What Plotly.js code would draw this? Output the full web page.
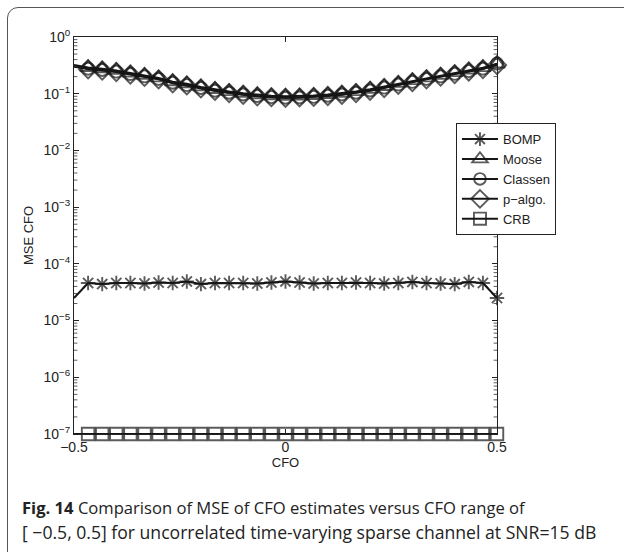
<!DOCTYPE html>
<html>
<head>
<meta charset="utf-8">
<script src="https://cdn.plot.ly/plotly-3.0.1.min.js"></script>
<style>
  html, body { margin:0; padding:0; background:#fff; overflow:hidden; }
  #frame { position:absolute; left:7px; top:7px; width:660px; height:600px;
           border:1.3px solid #555; border-radius:11px; box-sizing:border-box; }
  #chart { position:absolute; left:0; top:0; width:624px; height:552px; }
</style>
</head>
<body>
<div id="frame"></div>
<div id="chart"></div>
<script>
// CFO grid (31 points from -0.5 to 0.5)
const cfo = [-0.5, -0.4667, -0.4333, -0.4, -0.3667, -0.3333, -0.3, -0.2667, -0.2333, -0.2, -0.1667,
             -0.1333, -0.1, -0.0667, -0.0333, 0, 0.0333, 0.0667, 0.1, 0.1333, 0.1667,
             0.2, 0.2333, 0.2667, 0.3, 0.3333, 0.3667, 0.4, 0.4333, 0.4667, 0.5];

const bomp = [2.5e-5, 4.6e-5, 4.4e-5, 4.6e-5, 4.6e-5, 4.5e-5, 4.7e-5, 4.6e-5, 4.9e-5, 4.4e-5, 4.6e-5,
              4.6e-5, 4.6e-5, 4.5e-5, 4.7e-5, 4.9e-5, 4.7e-5, 4.5e-5, 4.6e-5, 4.6e-5, 4.7e-5,
              4.6e-5, 4.5e-5, 4.6e-5, 4.8e-5, 4.6e-5, 4.5e-5, 4.4e-5, 4.8e-5, 4.6e-5, 2.5e-5];

const moose = [0.32, 0.29, 0.275, 0.258, 0.232, 0.212, 0.19, 0.163, 0.15, 0.132, 0.119,
               0.109, 0.102, 0.096, 0.092, 0.09, 0.091, 0.093, 0.097, 0.102, 0.109,
               0.12, 0.134, 0.152, 0.17, 0.19, 0.211, 0.235, 0.262, 0.288, 0.335];

const classen = [0.3, 0.276, 0.262, 0.245, 0.222, 0.202, 0.182, 0.156, 0.142, 0.126, 0.113,
                 0.104, 0.097, 0.091, 0.087, 0.085, 0.086, 0.088, 0.092, 0.097, 0.104,
                 0.114, 0.128, 0.145, 0.162, 0.182, 0.202, 0.224, 0.25, 0.276, 0.34];

const palgo = [0.31, 0.27, 0.256, 0.242, 0.218, 0.198, 0.179, 0.153, 0.14, 0.124, 0.112,
               0.103, 0.096, 0.09, 0.087, 0.085, 0.086, 0.088, 0.091, 0.096, 0.103,
               0.113, 0.126, 0.143, 0.16, 0.18, 0.2, 0.222, 0.247, 0.272, 0.32];

const crb = [1e-7, 1e-7, 1e-7, 1e-7, 1e-7, 1e-7, 1e-7, 1e-7, 1e-7, 1e-7, 1e-7,
             1e-7, 1e-7, 1e-7, 1e-7, 1e-7, 1e-7, 1e-7, 1e-7, 1e-7, 1e-7,
             1e-7, 1e-7, 1e-7, 1e-7, 1e-7, 1e-7, 1e-7, 1e-7, 1e-7, 1e-7];

const seriesNames = ['BOMP', 'Moose', 'Classen', 'p\u2212algo.', 'CRB'];
const xTickVals = [-0.5, 0, 0.5];
const xTickText = ['\u22120.5', '0', '0.5'];
const yTickVals = [1e-7, 1e-6, 1e-5, 1e-4, 1e-3, 1e-2, 1e-1, 1];
const yTickText = ['10<sup>\u22127</sup>', '10<sup>\u22126</sup>', '10<sup>\u22125</sup>', '10<sup>\u22124</sup>',
                   '10<sup>\u22123</sup>', '10<sup>\u22122</sup>', '10<sup>\u22121</sup>', '10<sup>0</sup>'];

// minor log tick positions (2..9 within each decade)
const yMinorVals = [];
for (let e = -7; e < 0; e++) for (let m = 2; m <= 9; m++) yMinorVals.push(m * Math.pow(10, e));

// minor ticks drawn as short inside tick marks on the left and right axis lines
const minorShapes = [];
yMinorVals.forEach(v => {
  minorShapes.push({type: 'line', xref: 'paper', yref: 'y', x0: 0, x1: 0.008, y0: v, y1: v,
                    line: {color: '#333', width: 0.8}});
  minorShapes.push({type: 'line', xref: 'paper', yref: 'y', x0: 0.992, x1: 1, y0: v, y1: v,
                    line: {color: '#333', width: 0.8}});
});

function sizes(n, s) { const a = new Array(n).fill(s); a[0] = 0; return a; }

function mk(y, name, symbol, size) {
  return {
    x: cfo, y: y, name: name, type: 'scatter', mode: 'lines+markers',
    cliponaxis: false,
    line: {color: '#161616', width: 2},
    marker: {symbol: symbol, size: sizes(cfo.length, size), color: '#161616',
             line: {color: '#161616', width: 1.9}}
  };
}

const traces = [
  mk(bomp, seriesNames[0], 'asterisk-open', 12),
  mk(moose, seriesNames[1], 'triangle-up-open', 14),
  mk(classen, seriesNames[2], 'circle-open', 12),
  mk(palgo, seriesNames[3], 'diamond-open', 14),
  mk(crb, seriesNames[4], 'square-open', 12.5)
];

const axFont = {family: 'Liberation Sans, Arial, sans-serif', size: 14, color: '#222'};
const titleFont = {family: 'Liberation Sans, Arial, sans-serif', size: 13, color: '#222'};
const capFont1 = {family: 'Open Sans, Noto Sans, sans-serif', size: 16.6, color: '#222'};
const capFont2 = {family: 'Open Sans, Noto Sans, sans-serif', size: 17.6, color: '#222'};

const layout = {
  width: 624, height: 552,
  margin: {l: 74, r: 127, t: 37, b: 118},
  paper_bgcolor: 'rgba(0,0,0,0)',
  plot_bgcolor: '#fff',
  showlegend: true,
  font: axFont,
  shapes: minorShapes,
  xaxis: {
    range: [-0.5, 0.5], tickvals: xTickVals, ticktext: xTickText,
    ticks: 'inside', ticklen: 5, tickcolor: '#222', showline: true, linecolor: '#222', linewidth: 1,
    mirror: 'ticks', showgrid: false, zeroline: false, tickfont: axFont,
    title: {text: 'CFO', font: titleFont, standoff: 4}
  },
  yaxis: {
    type: 'log', range: [-7, 0], tickmode: 'array', tickvals: yTickVals, ticktext: yTickText,
    ticks: 'inside', ticklen: 5, tickcolor: '#222', showline: true, linecolor: '#222', linewidth: 1,
    mirror: 'ticks', showgrid: false, zeroline: false, tickfont: axFont,
    title: {text: 'MSE CFO', font: titleFont, standoff: 6}
  },
  legend: {
    x: 0.903, y: 0.783, xanchor: 'left', yanchor: 'top',
    bgcolor: '#fff', bordercolor: '#222', borderwidth: 1,
    font: {family: 'Liberation Sans, Arial, sans-serif', size: 13, color: '#222'},
    itemwidth: 36,
    tracegroupgap: 0
  },
  annotations: [
    {xref: 'paper', yref: 'paper', x: -0.128, y: -0.184, xanchor: 'left', yanchor: 'middle',
     showarrow: false, align: 'left', font: capFont1,
     text: '<b>Fig. 14</b> Comparison of MSE of CFO estimates versus CFO range of'},
    {xref: 'paper', yref: 'paper', x: -0.128, y: -0.246, xanchor: 'left', yanchor: 'middle',
     showarrow: false, align: 'left', font: capFont2,
     text: '[ \u22120.5, 0.5] for uncorrelated time-varying sparse channel at SNR=15 dB'}
  ]
};

Plotly.newPlot('chart', traces, layout, {displayModeBar: false, staticPlot: true});
</script>
</body>
</html>
